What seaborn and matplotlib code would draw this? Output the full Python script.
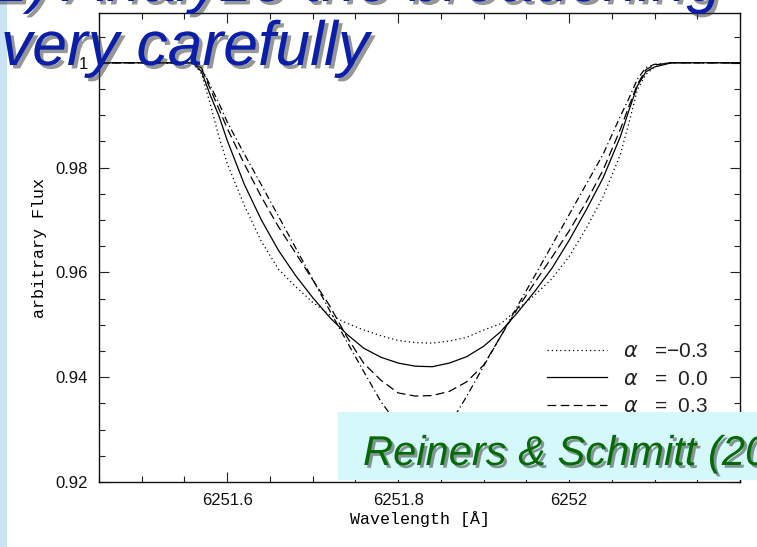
import numpy as np
import pandas as pd
import matplotlib
matplotlib.use("Agg")
import matplotlib.pyplot as plt
import seaborn as sns
from matplotlib.patches import Rectangle
from matplotlib.lines import Line2D
import matplotlib.patheffects as pe
from matplotlib.ticker import MultipleLocator

# ---------------- data ----------------
wavelength = [6251.45, 6251.54, 6251.56, 6251.57, 6251.58, 6251.59, 6251.60,
              6251.62, 6251.64, 6251.66, 6251.68, 6251.70, 6251.72, 6251.74,
              6251.76, 6251.78, 6251.80, 6251.82, 6251.84, 6251.86, 6251.88,
              6251.90, 6251.92, 6251.94, 6251.96, 6251.98, 6252.00, 6252.02,
              6252.04, 6252.06, 6252.07, 6252.08, 6252.09, 6252.10, 6252.12,
              6252.20]

flux_m03 = [1.0, 1.0, 1.0, 0.9979, 0.9922, 0.9861, 0.9808,
            0.9728, 0.9659, 0.9606, 0.9573, 0.9543, 0.9519, 0.9503,
            0.9490, 0.9479, 0.9470, 0.9466, 0.9465, 0.9469, 0.9476,
            0.9490, 0.9502, 0.9530, 0.9557, 0.9588, 0.9630, 0.9684,
            0.9745, 0.9825, 0.9885, 0.9949, 0.9978, 0.9992, 1.0,
            1.0]

flux_00 = [1.0, 1.0, 1.0, 0.9983, 0.9939, 0.9900, 0.9852,
           0.9768, 0.9700, 0.9642, 0.9594, 0.9552, 0.9514, 0.9482,
           0.9455, 0.9438, 0.9427, 0.9421, 0.9420, 0.9427, 0.9439,
           0.9459, 0.9487, 0.9524, 0.9564, 0.9608, 0.9661, 0.9719,
           0.9781, 0.9859, 0.9909, 0.9956, 0.9983, 0.9992, 1.0,
           1.0]

flux_03 = [1.0, 1.0, 1.0, 0.9989, 0.9951, 0.9913, 0.9875,
           0.9807, 0.9744, 0.9687, 0.9637, 0.9586, 0.9536, 0.9477,
           0.9426, 0.9394, 0.9370, 0.9364, 0.9365, 0.9373, 0.9391,
           0.9423, 0.9478, 0.9532, 0.9581, 0.9629, 0.9679, 0.9734,
           0.9796, 0.9873, 0.9917, 0.9959, 0.9987, 0.9996, 1.0,
           1.0]

flux_06 = [1.0, 1.0, 1.0, 0.9990, 0.9957, 0.9924, 0.9887,
           0.9826, 0.9767, 0.9707, 0.9647, 0.9587, 0.9527, 0.9468,
           0.9410, 0.9353, 0.9309, 0.9274, 0.9274, 0.9309, 0.9363,
           0.9421, 0.9478, 0.9537, 0.9594, 0.9652, 0.9710, 0.9768,
           0.9826, 0.9898, 0.9932, 0.9969, 0.9991, 0.9997, 1.0,
           1.0]

alpha_labels = ["$\\alpha$   =\u22120.3", "$\\alpha$   =  0.0",
                "$\\alpha$   =  0.3", "$\\alpha$   =  0.6"]
series = [flux_m03, flux_00, flux_03, flux_06]

x_ticks = [6251.6, 6251.8, 6252.0]
x_ticklabels = ["6251.6", "6251.8", "6252"]
y_ticks = [0.92, 0.94, 0.96, 0.98, 1.0]
y_ticklabels = ["0.92", "0.94", "0.96", "0.98", "1"]

heading_line1 = "2) Analyze the broadening"
heading_line2 = "very carefully"
reference_text = "Reiners & Schmitt (2002)"

# ---------------- figure ----------------
W, H = 757, 547
fig = plt.figure(figsize=(W / 100, H / 100), dpi=100)
fig.patch.set_facecolor("white")
ax = fig.add_axes([99 / W, (H - 482) / H, (740 - 99) / W, (482 - 13) / H])

df = pd.concat([pd.DataFrame({"wavelength": wavelength, "flux": f, "alpha": lab})
                for f, lab in zip(series, alpha_labels)], ignore_index=True)

dash_styles = [(1, 2.4), "", (7, 3.5), (5.5, 2.5, 1, 2.5)]
dash_map = dict(zip(alpha_labels, dash_styles))

sns.lineplot(data=df, x="wavelength", y="flux", style="alpha", style_order=alpha_labels,
             dashes=dash_map, color="black", linewidth=0.9, legend=False,
             estimator=None, sort=False, ax=ax)

ax.set_xlim(6251.45, 6252.2)
ax.set_ylim(0.92, 1.0095)
ax.set_xticks(x_ticks, x_ticklabels)
ax.set_yticks(y_ticks, y_ticklabels)
ax.xaxis.set_minor_locator(MultipleLocator(0.05))
ax.yaxis.set_minor_locator(MultipleLocator(0.005))
ax.tick_params(which="both", direction="in", top=True, right=True, width=0.8,
               color="#222222")
ax.tick_params(which="major", length=7, labelsize=12, pad=8)
ax.tick_params(which="minor", length=4.5)
for lab in ax.get_xticklabels() + ax.get_yticklabels():
    lab.set_family("Liberation Sans")
    lab.set_color("#111111")
for s in ax.spines.values():
    s.set_linewidth(1.0)
    s.set_color("#111111")

ax.set_xlabel("Wavelength [\u00c5]", family="Liberation Mono", fontsize=12, labelpad=2,
              color="black")
ax.set_ylabel("arbitrary Flux", family="Liberation Mono", fontsize=12, labelpad=6,
              color="black")

handles = []
for d in dash_styles:
    if d == "":
        handles.append(Line2D([], [], color="black", lw=0.9, linestyle="-"))
    else:
        handles.append(Line2D([], [], color="black", lw=0.9, linestyle=(0, d)))
leg = ax.legend(handles, alpha_labels, loc="upper left",
                bbox_to_anchor=((547 - 99) / 641, (482 - 342) / 469),
                frameon=False, borderpad=0, borderaxespad=0, handlelength=2.9,
                handletextpad=0.75, labelspacing=0.42,
                prop={"family": "Liberation Sans", "size": 15})
for t in leg.get_texts():
    t.set_color("#222222")

# ---------------- slide decorations ----------------
fig.add_artist(Rectangle((0, 0), 7 / W, 1, transform=fig.transFigure,
                         facecolor="#C9E3F3", edgecolor="none", zorder=5))
fig.add_artist(Rectangle((338 / W, (H - 480) / H), (W - 338) / W, 68 / H,
                         transform=fig.transFigure, facecolor="#D5F9FB",
                         edgecolor="none", zorder=10))

shadow = [pe.SimplePatchShadow(offset=(2.5, -2.5), shadow_rgbFace="#404040", alpha=0.55),
          pe.Normal()]
fig.text(-6 / W, 1 - 1 / H, heading_line1, family="Liberation Sans", style="italic",
         fontsize=45, color="#0A1EA8", va="baseline", ha="left", zorder=20,
         path_effects=shadow)
fig.text(1 / W, 1 - 65 / H, heading_line2, family="Liberation Sans", style="italic",
         fontsize=45, color="#0A1EA8", va="baseline", ha="left", zorder=20,
         path_effects=shadow)
fig.text(363 / W, 1 - 465 / H, reference_text, family="Liberation Sans", style="italic",
         fontsize=30, color="#066A06", va="baseline", ha="left", zorder=20,
         path_effects=[pe.SimplePatchShadow(offset=(2, -2), shadow_rgbFace="#303030",
                                            alpha=0.5), pe.Normal()])

fig.savefig("out.png", dpi=100)
